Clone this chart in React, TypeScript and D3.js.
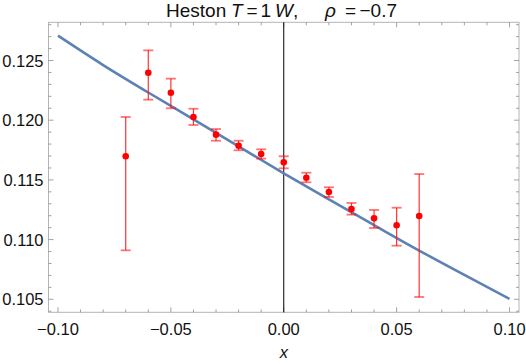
import * as d3 from "d3";

// measured points (ErrorListPlot style)
const xs = [-0.07, -0.06, -0.05, -0.04, -0.03, -0.02, -0.01, 0, 0.01, 0.02, 0.03, 0.04, 0.05, 0.06];
const vols = [0.11698, 0.12398, 0.1223, 0.12027, 0.11879, 0.11786, 0.11717, 0.11647, 0.11518, 0.11399, 0.11256, 0.11178, 0.1112, 0.11198];
const errLo = [0.1091, 0.12172, 0.121, 0.1196, 0.11828, 0.11748, 0.11678, 0.11597, 0.1148, 0.11357, 0.11209, 0.11097, 0.10949, 0.10519];
const errHi = [0.12027, 0.12585, 0.12348, 0.12096, 0.11926, 0.11828, 0.11756, 0.11698, 0.1156, 0.11438, 0.11307, 0.11248, 0.11267, 0.11549];

// model curve
const curveX = [-0.1, -0.08, -0.06, -0.04, -0.02, 0, 0.02, 0.04, 0.06, 0.08, 0.1];
const curveY = [0.12708, 0.12462, 0.12232, 0.12007, 0.11781, 0.11555, 0.11336, 0.11121, 0.10908, 0.10704, 0.10503];

const xMajor = [-0.1, -0.05, 0, 0.05, 0.1];
const xLabels = ["\u22120.10", "\u22120.05", "0.00", "0.05", "0.10"];
const yMajor = [0.105, 0.11, 0.115, 0.12, 0.125];
const yLabels = ["0.105", "0.110", "0.115", "0.120", "0.125"];

const W = 526;
const H = 364;
const left = 48.5;
const right = 519;
const top = 22.3;
const bottom = 312.3;

const x = d3.scaleLinear().domain([-0.1042, 0.1042]).range([left, right]);
const y = d3.scaleLinear().domain([0.10391, 0.1282]).range([bottom, top]);

const xMinor = d3.range(-10, 11).map((i) => i / 100);
const yMinor = d3.range(104, 129).map((i) => i / 1000);

const font = "'Liberation Sans', Arial, sans-serif";
const frameCol = "#b4b4b4";
const tickCol = "#8c8c8c";

export default function App() {
  const line = d3
    .line<number>()
    .x((d, i) => x(curveX[i]))
    .y((d) => y(d))
    .curve(d3.curveMonotoneX);

  const isMajorX = (v: number) => xMajor.some((m) => Math.abs(m - v) < 1e-9);
  const isMajorY = (v: number) => yMajor.some((m) => Math.abs(m - v) < 1e-9);

  return (
    <svg width={W} height={H} style={{ position: "absolute", left: 0, top: 0 }} fontFamily={font}>
      <rect width={W} height={H} fill="#fff" />

      {/* frame */}
      <rect x={left} y={top} width={right - left} height={bottom - top} fill="none" stroke={frameCol} strokeWidth={1} />

      {/* x ticks, bottom and top */}
      {xMinor.map((v) => {
        const len = isMajorX(v) ? 5 : 3;
        return (
          <g key={"xt" + v} stroke={tickCol} strokeWidth={0.8}>
            <line x1={x(v)} x2={x(v)} y1={bottom} y2={bottom - len} />
            <line x1={x(v)} x2={x(v)} y1={top} y2={top + len} />
          </g>
        );
      })}
      {/* y ticks, left and right */}
      {yMinor.map((v) => {
        const len = isMajorY(v) ? 5 : 3;
        return (
          <g key={"yt" + v} stroke={tickCol} strokeWidth={0.8}>
            <line x1={left} x2={left + len} y1={y(v)} y2={y(v)} />
            <line x1={right} x2={right - len} y1={y(v)} y2={y(v)} />
          </g>
        );
      })}

      {xMajor.map((v, i) => (
        <text key={"xl" + v} x={x(v)} y={334.5} textAnchor="middle" fontSize={16.5} fill="#111">
          {xLabels[i]}
        </text>
      ))}
      {yMajor.map((v, i) => (
        <text key={"yl" + v} x={43.5} y={y(v) + 6} textAnchor="end" fontSize={16.5} fill="#111">
          {yLabels[i]}
        </text>
      ))}

      {/* x = 0 axis */}
      <line x1={x(0)} x2={x(0)} y1={top} y2={bottom} stroke="#000" strokeWidth={1} />

      {/* model curve */}
      <path d={line(curveY) ?? ""} fill="none" stroke="#5E81B5" strokeWidth={2.6} />

      {/* error bars */}
      {xs.map((v, i) => (
        <g key={"eb" + v}>
          <line x1={x(v)} x2={x(v)} y1={y(errLo[i])} y2={y(errHi[i])} stroke="#ff1010" strokeOpacity={0.85} strokeWidth={1.2} />
          <line x1={x(v) - 5} x2={x(v) + 5} y1={y(errLo[i])} y2={y(errLo[i])} stroke="#ff0000" strokeOpacity={0.55} strokeWidth={1.8} />
          <line x1={x(v) - 5} x2={x(v) + 5} y1={y(errHi[i])} y2={y(errHi[i])} stroke="#ff0000" strokeOpacity={0.55} strokeWidth={1.8} />
        </g>
      ))}
      {xs.map((v, i) => (
        <circle key={"pt" + v} cx={x(v)} cy={y(vols[i])} r={3.3} fill="#ff0000" />
      ))}

      {/* title */}
      <text y={17} fontSize={19} fill="#111">
        <tspan x={166}>Heston</tspan>
        <tspan x={231} fontStyle="italic">T</tspan>
        <tspan x={246.5}>=</tspan>
        <tspan x={260.5}>1</tspan>
        <tspan x={275} fontStyle="italic">W</tspan>
        <tspan>,</tspan>
        <tspan x={325} fontStyle="italic">ρ</tspan>
        <tspan x={345}>=</tspan>
        <tspan x={359.5}>{"\u22120.7"}</tspan>
      </text>

      {/* axis label */}
      <text x={x(0)} y={358} textAnchor="middle" fontSize={16.5} fontStyle="italic" fill="#111">
        x
      </text>
    </svg>
  );
}
